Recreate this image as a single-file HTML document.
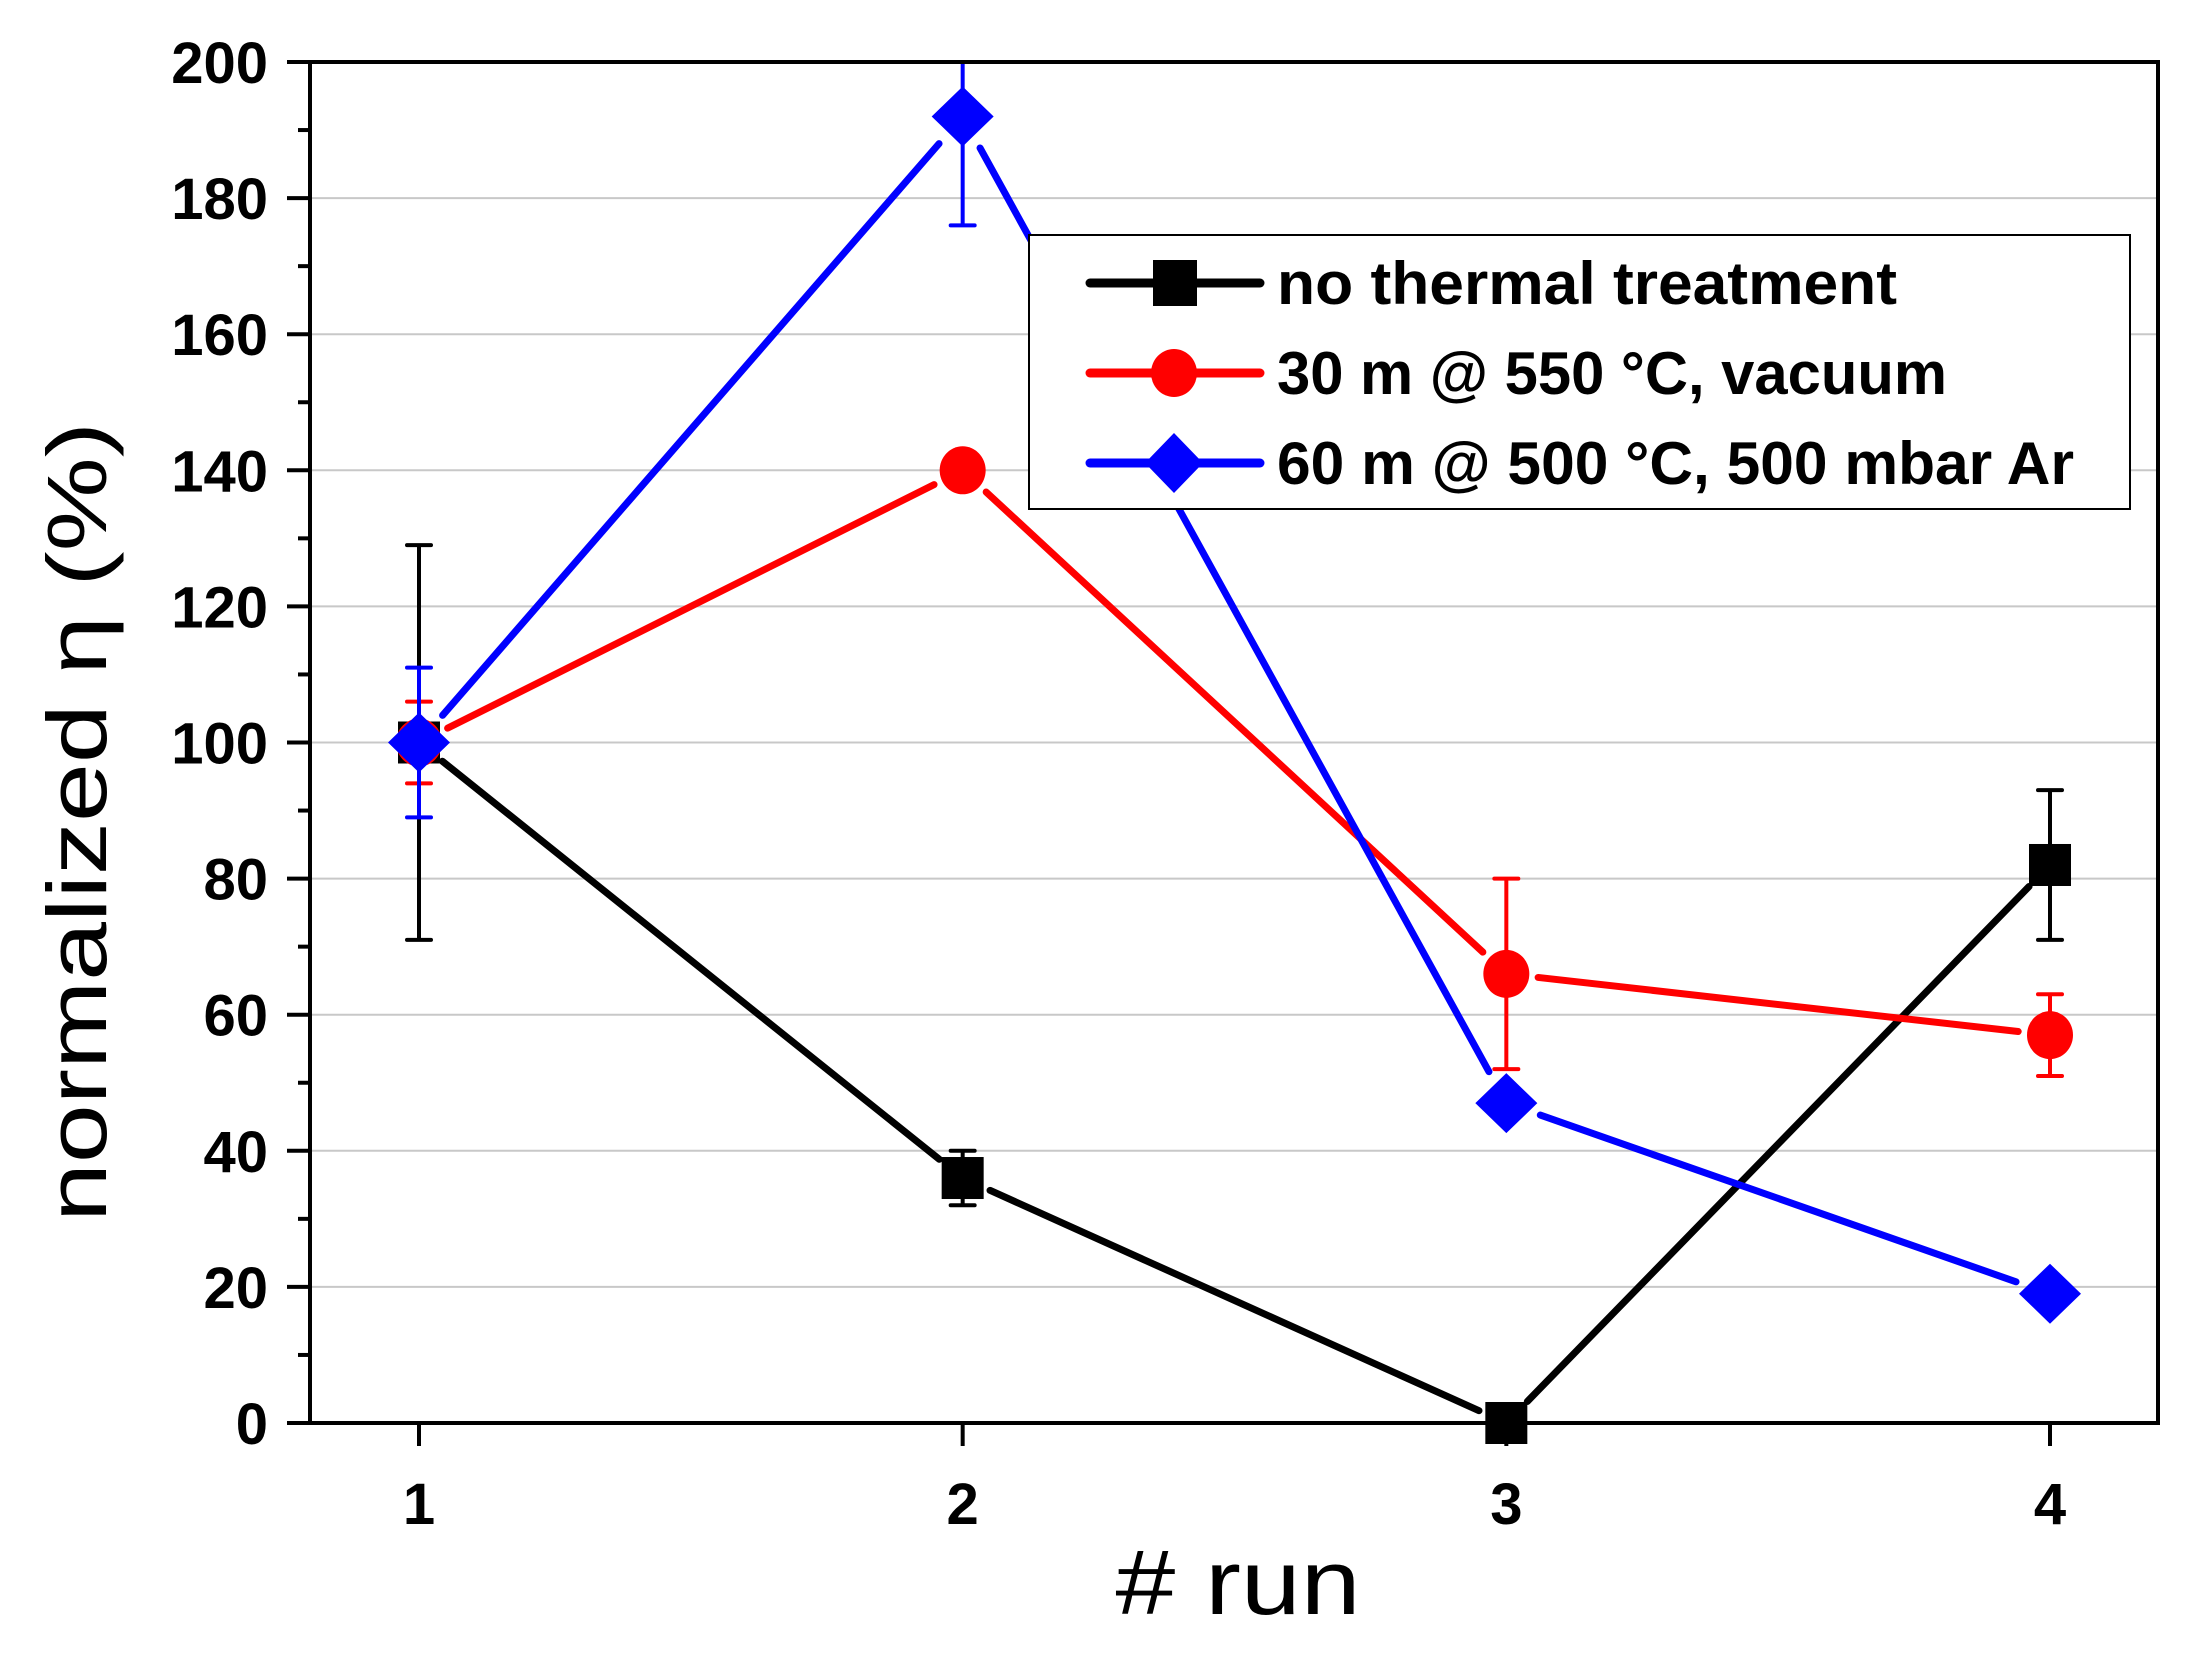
<!DOCTYPE html>
<html><head><meta charset="utf-8">
<style>
html,body{margin:0;padding:0;background:#fff;}
svg{display:block;}
text{font-family:"Liberation Sans",sans-serif;}
</style></head>
<body>
<svg id="chart" width="2192" height="1660" viewBox="0 0 2192 1660" xmlns="http://www.w3.org/2000/svg">
<rect x="0" y="0" width="2192" height="1660" fill="#fff"/>
<g id="grid"></g>
<g id="series"></g>
<g id="legend">
  <rect x="1029" y="235" width="1101" height="274" fill="#fff" stroke="#000" stroke-width="2"/>
  <g>
    <line x1="1090" y1="283" x2="1260" y2="283" stroke="#000" stroke-width="9" stroke-linecap="round"/>
    <rect x="1153" y="260" width="44" height="46" fill="#000"/>
    <text x="1277" y="304" font-size="60" font-weight="bold" textLength="620" lengthAdjust="spacingAndGlyphs">no thermal treatment</text>
  </g>
  <g>
    <line x1="1090" y1="373" x2="1260" y2="373" stroke="#f00" stroke-width="9" stroke-linecap="round"/>
    <ellipse cx="1174" cy="373" rx="23" ry="24" fill="#f00"/>
    <text x="1277" y="394" font-size="60" font-weight="bold" textLength="670" lengthAdjust="spacingAndGlyphs">30 m @ 550 °C, vacuum</text>
  </g>
  <g>
    <line x1="1090" y1="463" x2="1260" y2="463" stroke="#00f" stroke-width="9" stroke-linecap="round"/>
    <polygon points="1174,433 1203,463 1174,493 1145,463" fill="#00f"/>
    <text x="1277" y="484" font-size="60" font-weight="bold" textLength="797" lengthAdjust="spacingAndGlyphs">60 m @ 500 °C, 500 mbar Ar</text>
  </g>
</g>
<g id="axes"></g>
<text x="0" y="0" font-size="84" transform="translate(106,822) rotate(-90)" text-anchor="middle" textLength="800" lengthAdjust="spacingAndGlyphs">normalized η (%)</text>
<text x="1238" y="1614" font-size="92" text-anchor="middle" textLength="245" lengthAdjust="spacingAndGlyphs"># run</text>
</svg>
<script>
const categories = [1, 2, 3, 4];
const noTreatment = [100, 36, 0, 82];
const noTreatmentErr = [29, 4, 0, 11];
const vacuum = [100, 140, 66, 57];
const vacuumErr = [6, 0, 14, 6];
const argon = [100, 192, 47, 19];
const argonErr = [11, 16, 0, 0];
const yTicks = [0, 20, 40, 60, 80, 100, 120, 140, 160, 180, 200];
const xTicks = [1, 2, 3, 4];

const NS = 'http://www.w3.org/2000/svg';
const L = 310, R = 2158, T = 62, B = 1423;
const yMin = 0, yMax = 200;
function xs(v){ return 419 + (v - 1) * (2050 - 419) / 3; }
function ys(v){ return B - (v - yMin) / (yMax - yMin) * (B - T); }
function mk(tag, attrs, parent){
  const e = document.createElementNS(NS, tag);
  for (const k in attrs) e.setAttribute(k, attrs[k]);
  parent.appendChild(e);
  return e;
}
const grid = document.getElementById('grid');
const axes = document.getElementById('axes');
const series = document.getElementById('series');

yTicks.forEach(t => {
  if (t !== 0 && t !== 200) {
    const g = mk('line', {x1: L, x2: R, y1: ys(t), y2: ys(t), stroke: '#c8c8c8', 'stroke-width': 2}, grid);
    
    
  }
});
const frame = mk('rect', {x: L, y: T, width: R - L, height: B - T, fill: 'none', stroke: '#000', 'stroke-width': 4}, axes);


for (let v = 0; v <= 200; v += 10) {
  const major = v % 20 === 0;
  mk('line', {x1: L - (major ? 23 : 12), x2: L, y1: ys(v), y2: ys(v), stroke: '#000', 'stroke-width': 4}, axes);
}
yTicks.forEach(t => {
  const tx = mk('text', {x: 268, y: ys(t) + 21, 'font-size': 58, 'font-weight': 'bold', 'text-anchor': 'end'}, axes);
  
  
  tx.textContent = t;
});
xTicks.forEach(t => {
  mk('line', {x1: xs(t), x2: xs(t), y1: B, y2: B + 23, stroke: '#000', 'stroke-width': 4}, axes);
  const tx = mk('text', {x: xs(t), y: 1524, 'font-size': 58, 'font-weight': 'bold', 'text-anchor': 'middle'}, axes);
  
  
  tx.textContent = t;
});

function drawSeries(name, vals, errs, color, shape, gapR){
  const g = mk('g', {}, series);
  
  
  for (let i = 0; i < vals.length - 1; i++) {
    const x1 = xs(categories[i]), y1 = ys(vals[i]), x2 = xs(categories[i+1]), y2 = ys(vals[i+1]);
    const d = Math.hypot(x2 - x1, y2 - y1), ux = (x2 - x1) / d, uy = (y2 - y1) / d;
    const ln = mk('line', {x1: x1 + ux * gapR, y1: y1 + uy * gapR, x2: x2 - ux * gapR, y2: y2 - uy * gapR, stroke: color, 'stroke-width': 7, 'stroke-linecap': 'round'}, g);
    
    
  }
  vals.forEach((v, i) => {
    const x = xs(categories[i]), y = ys(v);
    if (errs[i] > 0) {
      const hi = Math.max(ys(v + errs[i]), T), lo = ys(v - errs[i]);
      const eb = mk('path', {d: 'M' + x + ' ' + hi + 'V' + lo + (ys(v + errs[i]) >= T ? 'M' + (x - 12) + ' ' + hi + 'H' + (x + 12) : '') + 'M' + (x - 12) + ' ' + lo + 'H' + (x + 12), stroke: color, 'stroke-width': 4, fill: 'none', 'stroke-linecap': 'round'}, g);
      
      
    }
    let m;
    if (shape === 'square') m = mk('rect', {x: x - 21, y: y - 21, width: 42, height: 42, fill: color}, g);
    else if (shape === 'circle') m = mk('ellipse', {cx: x, cy: y, rx: 23, ry: 24, fill: color}, g);
    else m = mk('polygon', {points: [x, y - 30, x + 31, y, x, y + 30, x - 31, y].join(','), fill: color}, g);
    
    
  });
}
drawSeries('series-no-treatment', noTreatment, noTreatmentErr, '#000', 'square', 30);
drawSeries('series-vacuum', vacuum, vacuumErr, '#f00', 'circle', 32);
drawSeries('series-argon', argon, argonErr, '#00f', 'diamond', 36);
const svg = document.getElementById('chart');
svg.appendChild(document.getElementById('legend'));
svg.appendChild(document.getElementById('axes'));
</script>
</body></html>
